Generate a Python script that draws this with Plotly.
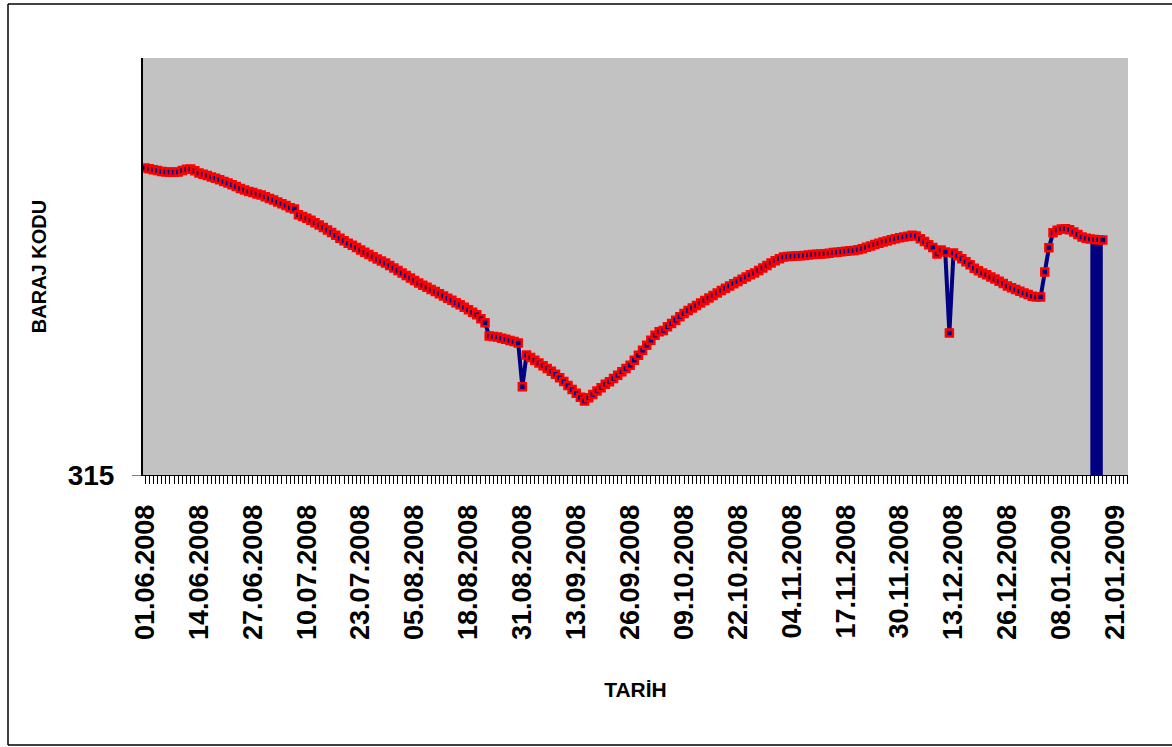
import pandas as pd
import plotly.graph_objects as go

# Daily dam water level (BARAJ KODU), 01.06.2008 - 18.01.2009
start_date = "2008-06-01"
levels = [
    326.04, 326.02, 325.98, 325.95, 325.92, 325.90, 325.90, 325.89, 325.90, 325.95,
    326.00, 326.01, 325.94, 325.86, 325.82, 325.77, 325.72, 325.67, 325.62, 325.56,
    325.50, 325.44, 325.38, 325.31, 325.25, 325.20, 325.16, 325.11, 325.07, 325.01,
    324.95, 324.89, 324.82, 324.76, 324.69, 324.61, 324.57, 324.36, 324.30, 324.24,
    324.16, 324.07, 323.99, 323.90, 323.81, 323.72, 323.62, 323.52, 323.43, 323.34,
    323.26, 323.18, 323.09, 323.01, 322.93, 322.85, 322.77, 322.70, 322.63, 322.54,
    322.45, 322.36, 322.27, 322.18, 322.09, 322.00, 321.91, 321.83, 321.75, 321.67,
    321.60, 321.52, 321.44, 321.36, 321.29, 321.20, 321.12, 321.03, 320.94, 320.85,
    320.76, 320.62, 320.48, 320.00, 319.98, 319.96, 319.92, 319.88, 319.84, 319.80,
    319.75, 318.17, 319.32, 319.23, 319.13, 319.03, 318.93, 318.83, 318.73, 318.62,
    318.50, 318.36, 318.22, 318.08, 317.94, 317.80, 317.66, 317.78, 317.90, 318.02,
    318.14, 318.26, 318.35, 318.47, 318.59, 318.71, 318.83, 318.95, 319.13, 319.31,
    319.49, 319.67, 319.85, 320.03, 320.15, 320.20, 320.33, 320.45, 320.57, 320.69,
    320.81, 320.92, 321.01, 321.10, 321.19, 321.28, 321.37, 321.46, 321.55, 321.64,
    321.72, 321.80, 321.88, 321.96, 322.04, 322.12, 322.20, 322.27, 322.36, 322.45,
    322.54, 322.63, 322.71, 322.78, 322.84, 322.86, 322.87, 322.88, 322.89, 322.90,
    322.91, 322.93, 322.94, 322.95, 322.96, 322.98, 323.00, 323.01, 323.03, 323.05,
    323.07, 323.08, 323.10, 323.14, 323.19, 323.24, 323.29, 323.34, 323.38, 323.42,
    323.46, 323.50, 323.53, 323.56, 323.59, 323.62, 323.60, 323.50, 323.40, 323.28,
    323.18, 322.95, 323.09, 323.02, 320.11, 322.99, 322.89, 322.78, 322.67, 322.56,
    322.44, 322.35, 322.27, 322.20, 322.12, 322.05, 321.97, 321.89, 321.80, 321.74,
    321.67, 321.61, 321.55, 321.49, 321.43, 321.40, 321.40, 322.30, 323.17, 323.71,
    323.80, 323.85, 323.86, 323.82, 323.74, 323.65, 323.56, 323.52, 323.49, 323.47,
    323.46, 323.45,
]
y_ticks = [315]
y_range = [315, 330]
x_range = ["2008-05-31 12:00", "2009-01-24 02:00"]
tick_step_days = 13
last_drop_days = 4  # final readings that fall away to the axis

dates = pd.date_range(start_date, periods=len(levels), freq="D")

NAVY = "#000080"
RED = "#FF0000"
FONT = "Liberation Sans"

fig = go.Figure()

# final drop-off column at the end of the record
fig.add_trace(go.Scatter(
    x=dates[-last_drop_days:], y=levels[-last_drop_days:],
    mode="lines", fill="tozeroy", fillcolor=NAVY,
    line=dict(color=NAVY, width=6), hoverinfo="skip", showlegend=False,
))

fig.add_trace(go.Scatter(
    x=dates, y=levels, mode="lines+markers",
    line=dict(color=NAVY, width=4),
    marker=dict(symbol="square", size=7, color=NAVY,
                line=dict(color=RED, width=2.5)),
    showlegend=False,
))

L, R, T, B = 143, 44, 58, 272
W, H = 1172, 747
pw, ph = W - L - R, H - T - B


def px_x(v):
    return (v - L) / pw


def px_y(v):
    return (T + ph - v) / ph


frame = dict(type="line", xref="paper", yref="paper",
             line=dict(color="black", width=1.5), layer="below")
fig.update_layout(
    width=W, height=H,
    margin=dict(l=L, r=R, t=T, b=B),
    paper_bgcolor="white",
    plot_bgcolor="#C2C2C2",
    font=dict(family=FONT, color="black"),
    shapes=[
        dict(frame, x0=px_x(8), x1=px_x(8), y0=px_y(4), y1=px_y(745)),
        dict(frame, x0=px_x(8), x1=px_x(1172), y0=px_y(4), y1=px_y(4)),
        dict(frame, x0=px_x(8), x1=px_x(1172), y0=px_y(745), y1=px_y(745)),
    ],
)

fig.update_xaxes(
    type="date", range=x_range,
    tick0=start_date, dtick=tick_step_days * 86400000,
    tickformat="%d.%m.%Y", tickangle=-90,
    tickfont=dict(size=27, weight="bold"),
    ticks="outside", ticklen=8, tickwidth=1, tickcolor="black",
    minor=dict(dtick=86400000, tick0=start_date, ticks="outside",
               ticklen=8, tickwidth=1, tickcolor="black"),
    ticklabelstandoff=10,
    showgrid=False, zeroline=False,
    showline=True, linecolor="black", linewidth=1,
    title=dict(text="TARİH", font=dict(size=21, weight="bold"), standoff=43),
)

fig.update_yaxes(
    range=y_range, tickvals=y_ticks, ticktext=[str(v) for v in y_ticks],
    tickfont=dict(size=28, weight="bold"),
    ticks="outside", ticklen=9, tickcolor="#808080",
    ticklabelstandoff=12,
    showgrid=False, zeroline=False,
    showline=True, linecolor="black", linewidth=2,
    title=dict(text="BARAJ KODU", font=dict(size=20, weight="bold"), standoff=16),
)

fig.write_html("out.html", config={"displayModeBar": False},
               post_script="document.body.style.margin='0';")
